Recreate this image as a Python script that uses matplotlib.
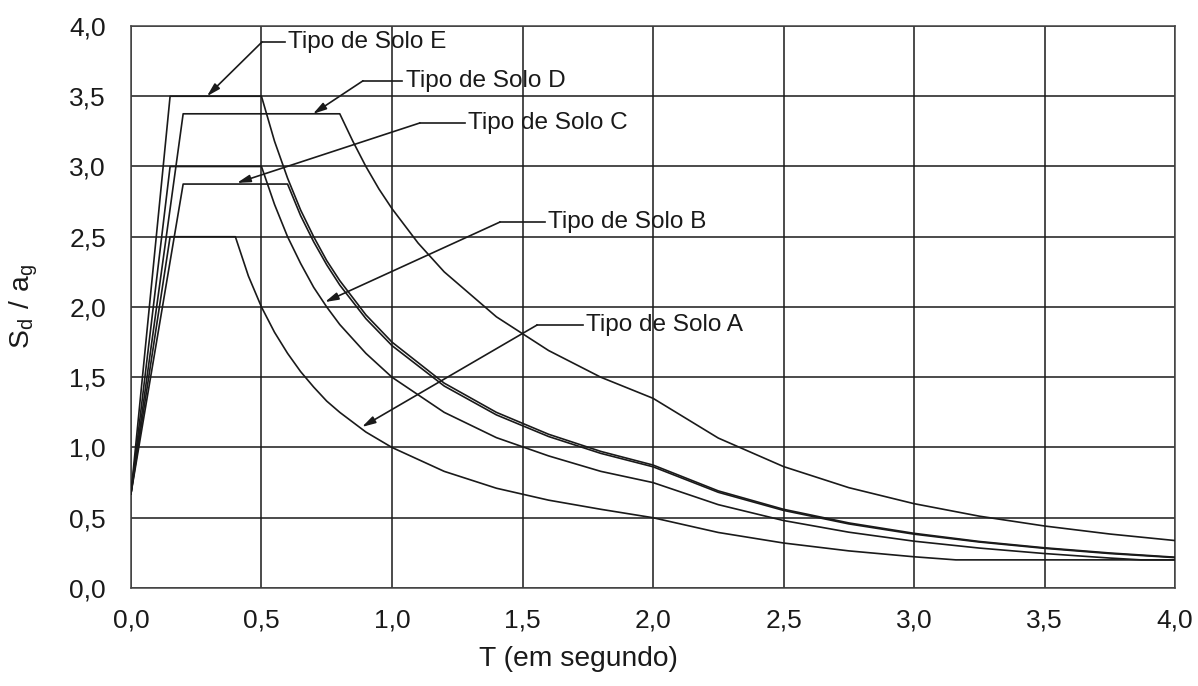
import matplotlib
matplotlib.use("Agg")
import matplotlib.pyplot as plt

plt.rcParams['font.family'] = ['Liberation Sans', 'DejaVu Sans']
plt.rcParams['mathtext.fontset'] = 'custom'
plt.rcParams['mathtext.rm'] = 'Liberation Sans'

# periods (s) and Sd/ag values
t_a = [0.0, 0.15, 0.4, 0.45, 0.5, 0.55, 0.6, 0.65, 0.7, 0.75, 0.8, 0.9, 1.0, 1.2, 1.4, 1.6, 1.8, 2.0, 2.25, 2.5, 2.75, 3.0, 3.16, 3.5, 4.0]
sd_a = [0.67, 2.5, 2.5, 2.22, 2.0, 1.82, 1.67, 1.54, 1.43, 1.33, 1.25, 1.11, 1.0, 0.83, 0.71, 0.625, 0.56, 0.5, 0.395, 0.32, 0.264, 0.222, 0.2, 0.2, 0.2]

t_b = [0.0, 0.15, 0.5, 0.55, 0.6, 0.65, 0.7, 0.75, 0.8, 0.9, 1.0, 1.2, 1.4, 1.6, 1.8, 2.0, 2.25, 2.5, 2.75, 3.0, 3.25, 3.5, 3.75, 3.87, 4.0]
sd_b = [0.67, 3.0, 3.0, 2.73, 2.5, 2.31, 2.14, 2.0, 1.875, 1.67, 1.5, 1.25, 1.07, 0.94, 0.83, 0.75, 0.593, 0.48, 0.397, 0.333, 0.284, 0.245, 0.213, 0.2, 0.2]

t_c = [0.0, 0.2, 0.6, 0.65, 0.7, 0.75, 0.8, 0.9, 1.0, 1.2, 1.4, 1.6, 1.8, 2.0, 2.25, 2.5, 2.75, 3.0, 3.25, 3.5, 3.75, 4.0]
sd_c = [0.67, 2.875, 2.875, 2.65, 2.464, 2.3, 2.156, 1.917, 1.725, 1.4375, 1.232, 1.078, 0.958, 0.8625, 0.681, 0.552, 0.456, 0.383, 0.327, 0.282, 0.245, 0.216]

t_d = [0.0, 0.2, 0.8, 0.85, 0.9, 0.95, 1.0, 1.1, 1.2, 1.4, 1.6, 1.8, 2.0, 2.25, 2.5, 2.75, 3.0, 3.25, 3.5, 3.75, 4.0]
sd_d = [0.67, 3.375, 3.375, 3.18, 3.0, 2.84, 2.7, 2.455, 2.25, 1.93, 1.69, 1.5, 1.35, 1.067, 0.864, 0.714, 0.6, 0.511, 0.441, 0.384, 0.3375]

t_e = [0.0, 0.15, 0.5, 0.55, 0.6, 0.65, 0.7, 0.75, 0.8, 0.9, 1.0, 1.2, 1.4, 1.6, 1.8, 2.0, 2.25, 2.5, 2.75, 3.0, 3.25, 3.5, 3.75, 4.0]
sd_e = [0.67, 3.5, 3.5, 3.18, 2.917, 2.69, 2.5, 2.33, 2.1875, 1.944, 1.75, 1.458, 1.25, 1.094, 0.972, 0.875, 0.691, 0.56, 0.463, 0.389, 0.331, 0.286, 0.249, 0.219]

labels = ["Tipo de Solo A", "Tipo de Solo B", "Tipo de Solo C", "Tipo de Solo D", "Tipo de Solo E"]
# leader lines: arrow tip on curve, elbow, end of horizontal segment
tips = [(0.885, 1.146), (0.743, 2.035), (0.406, 2.883), (0.697, 3.374), (0.291, 3.50)]
elbows = [(1.556, 1.872), (1.414, 2.605), (1.107, 3.31), (0.889, 3.61), (0.502, 3.886)]
ends = [(1.73, 1.872), (1.586, 2.605), (1.28, 3.31), (1.04, 3.61), (0.59, 3.886)]

xticks = [0.0, 0.5, 1.0, 1.5, 2.0, 2.5, 3.0, 3.5, 4.0]
yticks = [0.0, 0.5, 1.0, 1.5, 2.0, 2.5, 3.0, 3.5, 4.0]

fig = plt.figure(figsize=(11.98, 6.86), dpi=100)
ax = fig.add_axes([0.1093, 0.1429, 0.8716, 0.8192])

ink = '#1a1a1a'
for t, sd in [(t_a, sd_a), (t_b, sd_b), (t_c, sd_c), (t_d, sd_d), (t_e, sd_e)]:
    ax.plot(t, sd, color=ink, lw=1.2, zorder=3)

for lab, tip, elb, end in zip(labels, tips, elbows, ends):
    ax.plot([elb[0], end[0]], [elb[1], end[1]], color=ink, lw=1.2, zorder=4)
    ax.annotate('', xy=tip, xytext=elb,
                arrowprops=dict(arrowstyle='-|>,head_length=0.8,head_width=0.22',
                                color=ink, lw=1.2, shrinkA=0, shrinkB=0), zorder=4)
    ax.text(end[0] + 0.012, end[1], lab, fontsize=17.6, va='center', ha='left', color=ink)

ax.set_xlim(0, 4)
ax.set_ylim(0, 4)
ax.set_xticks(xticks)
ax.set_yticks(yticks)
ax.set_xticklabels([f"{v:.1f}".replace('.', ',') for v in xticks])
ax.set_yticklabels([f"{v:.1f}".replace('.', ',') for v in yticks])
ax.tick_params(length=0, labelsize=19, colors=ink)
ax.tick_params(axis='y', pad=18)
ax.tick_params(axis='x', pad=15)
ax.grid(True, color=ink, lw=1.1)
ax.set_axisbelow(True)
for s in ax.spines.values():
    s.set_color('#444444')
    s.set_linewidth(1.1)

ax.set_xlabel("T (em segundo)", fontsize=20.3, color=ink)
ax.xaxis.set_label_coords(0.429, -0.103)
ax.set_ylabel(r'$\mathregular{S_d\ /\ a_g}$', fontsize=20.3, color=ink)
ax.yaxis.set_label_coords(-0.087, 0.5)

fig.savefig("out.png", dpi=100)
